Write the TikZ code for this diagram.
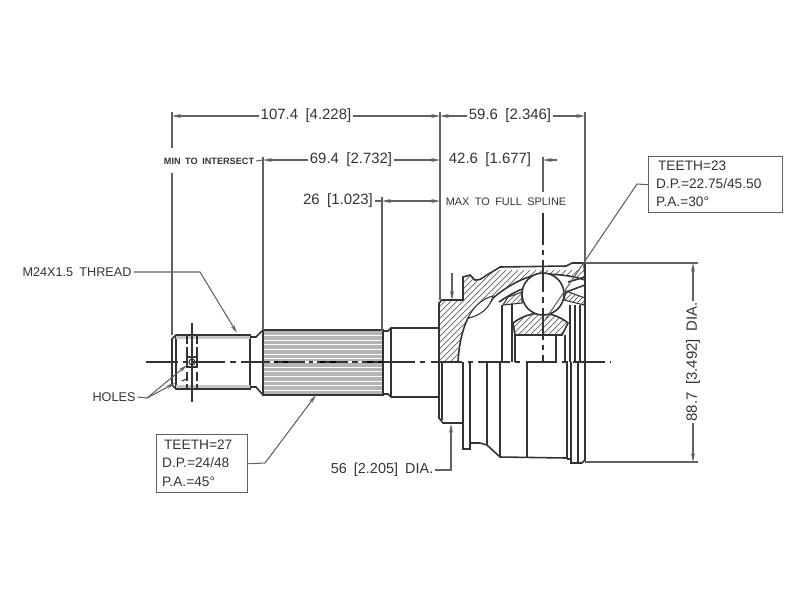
\documentclass[tikz,border=0pt]{standalone}
\usepackage{fontspec}
\setmainfont[WordSpace=1.8]{Liberation Sans}
\usetikzlibrary{arrows.meta}
\definecolor{inkdark}{gray}{0.2}
\definecolor{inkdim}{gray}{0.38}
\tikzset{
  outline/.style={draw=inkdark, line width=0.9pt},
  thinline/.style={draw=inkdark, line width=0.6pt},
  dimline/.style={draw=inkdim, line width=0.6pt},
  dimarrow/.style={dimline, -{Stealth[length=5pt, width=2.2pt]}},
  dimboth/.style={dimline, {Stealth[length=5pt, width=2.2pt]}-{Stealth[length=5pt, width=2.2pt]}},
  centerline/.style={draw=inkdark, line width=0.8pt, dash pattern=on 18pt off 3pt on 3pt off 3pt},
  dimtext/.style={font=\fontsize{8.5}{10}\selectfont, text=inkdark, inner sep=1pt},
  labeltext/.style={font=\fontsize{7.2}{9}\selectfont, text=inkdark, inner sep=1pt},
  notetext/.style={font=\fontsize{6.2}{8}\selectfont, text=inkdark, inner sep=1pt},
  smalltext/.style={font=\fontsize{5.2}{6}\selectfont\bfseries, text=inkdark, inner sep=1pt},
  spectext/.style={font=\fontsize{7.8}{9}\selectfont, text=inkdark, inner sep=1pt, anchor=west},
  specbox/.style={draw=inkdim, line width=0.8pt, anchor=north west, inner sep=0pt},
  hatchline/.style={draw=inkdim, line width=0.4pt}
}
\newcommand{\hubpath}{(439,303) -- (442,300) -- (463,300) -- (463,277) -- (470,275) -- (475,280)
    .. controls (482,281) and (486,274) .. (492,272) -- (500,267) -- (566,266) -- (572,263) -- (584,263)
    -- (585,280) .. controls (570,275) and (555,274) .. (540,274)
    .. controls (520,278) and (505,288) .. (493,298)
    .. controls (485,312) and (475,315) .. (468,318)
    .. controls (462,330) and (459,345) .. (458,362) -- (439,362) -- cycle}
\newcommand{\cagepiece}[1]{
    \begin{scope}
        \clip #1 -- cycle;
        \foreach \k in {0,5,...,100} {
            \draw[hatchline] (490+\k,315) -- (520+\k,285);
        }
    \end{scope}
    \draw[thinline] #1 -- cycle;
}
\begin{document}
\begin{tikzpicture}[x=0.02cm, y=-0.02cm]
    \useasboundingbox (0,0) rectangle (800,600);

    % shaft end and thread
    \draw[outline] (176,335) -- (250,335) -- (250,389) -- (176,389) -- (172,385) -- (172,339) -- cycle;
    \draw[thinline] (176,335) -- (176,389);
    \fill[gray!45] (176,336) rectangle (250,339);
    \fill[gray!45] (176,385) rectangle (250,388);
    \draw[outline] (250,337) -- (256,337) -- (263,330);
    \draw[outline] (250,387) -- (256,387) -- (263,395);
    \foreach \x in {187,197} {
        \draw[thinline, dash pattern=on 5pt off 2pt] (\x,335) -- (\x,389);
    }
    \draw[thinline, dash pattern=on 4pt off 2pt] (188,378) -- (180,382);

    % spline
    \fill[gray!58] (263,330) rectangle (383,395);
    \foreach \y in {335,340,344,349,354,358,367,371,376,381,385,390} {
        \draw[white, line width=0.55pt] (263,\y) -- (383,\y);
    }
    \draw[outline] (263,330) rectangle (383,395);
    \draw[black, line width=1.3pt] (263,362) -- (383,362);

    % neck and stem
    \draw[outline] (383,331) -- (388,331) -- (391,328) -- (439,328);
    \draw[outline] (383,394) -- (388,394) -- (391,397) -- (439,397);
    \draw[thinline] (391,328) -- (391,397);

    % housing section
    \begin{scope}
        \clip \hubpath;
        \foreach \k in {-90,-84,...,120} {
            \draw[hatchline] (430+\k,370) -- (530+\k,270);
        }
    \end{scope}
    \draw[outline] \hubpath;
    \draw[thinline, fill=white] (468,318) .. controls (474,305) and (484,298) .. (493,296)
        .. controls (490,308) and (480,316) .. (468,318);
    \draw[outline] (499,302) .. controls (515,291) and (525,287) .. (535,286);

    % cage and races
    \cagepiece{(503,305) -- (522,303) -- (522,292) -- (508,297)}
    \cagepiece{(584,305) -- (564,300) -- (566,291) -- (585,298)}
    \begin{scope}
        \clip (515,335) -- (513,323) .. controls (530,310) and (552,310) .. (568,323) -- (562,335) -- cycle;
        \foreach \k in {0,6,...,90} {
            \draw[hatchline] (495+\k,340) -- (525+\k,310);
        }
    \end{scope}
    \draw[outline] (515,335) -- (513,323) .. controls (530,310) and (552,310) .. (568,323) -- (562,335) -- cycle;
    \draw[outline, fill=white] (543,294) circle (21);
    \draw[outline] (568,282) -- (585,277);
    \draw[outline] (566,292) -- (585,285);

    % inner verticals
    \foreach \x/\ya in {502/305,575/305,585/263} {
        \draw[outline] (\x,\ya) -- (\x,362);
    }
    \foreach \x/\ya in {515/335,556/335,565/335,570/305,580/305} {
        \draw[thinline] (\x,\ya) -- (\x,362);
    }
    \draw[outline] (512,304) -- (512,362);

    % housing outer view
    \draw[outline] (439,362) -- (439,418) -- (443,423) -- (463,423);
    \draw[thinline] (442,362) -- (442,420);
    \draw[outline] (463,362) -- (463,449) -- (470,449) -- (470,362);
    \draw[outline] (470,443) -- (480,443) -- (487,445) -- (500,457) -- (567,458);
    \foreach \x/\yb in {487/445,500/457,527/457,567/459,571/464,578/464} {
        \draw[outline] (\x,362) -- (\x,\yb);
    }
    \draw[outline] (567,459) -- (571,459) -- (571,463) -- (582,463) -- (585,460) -- (585,362);

    % center lines
    \draw[centerline] (146,362) -- (610,362);
    \foreach \x in {272,307,315,350,360} {
        \draw[white, line width=1pt] (\x-2,362) -- (\x+2,362);
    }
    \draw[thinline] (192,323) -- (192,402);
    \draw[thinline] (187,357) rectangle (197,367);
    \draw[thinline] (192,362) circle (3);
    \draw[centerline] (543,213) -- (543,362);

    % extension lines
    \draw[dimline] (172,112) -- (172,148);
    \draw[dimline] (172,173) -- (172,335);
    \draw[dimline] (263,157) -- (263,330);
    \draw[dimline] (382,197) -- (382,331);
    \draw[dimline] (440,112) -- (440,300);
    \draw[dimline] (585,112) -- (585,263);
    \draw[dimline] (543,157) -- (543,192);
    \draw[dimline] (585,263) -- (698,263);
    \draw[dimline] (585,462) -- (698,462);

    % dimensions
    \node[dimtext] (dimtotal) at (306,116) {107.4 [4.228]};
    \node[dimtext] (dimflange) at (510,116) {59.6 [2.346]};
    \node[dimtext] (diminter) at (351,160) {69.4 [2.732]};
    \node[dimtext] (dimball) at (490,160) {42.6 [1.677]};
    \node[dimtext] (dimspline) at (338,201) {26 [1.023]};
    \node[smalltext] (mintext) at (209,161) {MIN TO INTERSECT};
    \node[notetext] (maxtext) at (506,202) {MAX TO FULL SPLINE};
    \node[dimtext, rotate=90] (dimoutside) at (693,362) {88.7 [3.492] DIA.};
    \node[dimtext, font=\fontsize{8.2}{10}\selectfont] (dimstem) at (382,470) {56 [2.205] DIA.};
    \node[labeltext] (threadtext) at (77,272) {M24X1.5 THREAD};
    \node[labeltext] (holestext) at (114,397) {HOLES};

    \coordinate (totalleft) at (172,116);
    \coordinate (totalright) at (440,116);
    \coordinate (flangeright) at (585,116);
    \coordinate (interleft) at (263,160);
    \coordinate (interright) at (440,160);
    \coordinate (ballright) at (543,160);
    \coordinate (balltail) at (557,160);
    \coordinate (splineleft) at (382,201);
    \coordinate (splineright) at (440,201);
    \coordinate (dimtop) at (693,263);
    \coordinate (dimbottom) at (693,462);
    \coordinate (stemknee) at (451,470);
    \coordinate (stemtip) at (451,424);
    \coordinate (hubtail) at (452,273);
    \coordinate (hubtip) at (452,300);

    \draw[dimarrow] (dimtotal) -- (totalleft);
    \draw[dimarrow] (dimtotal) -- (totalright);
    \draw[dimarrow] (dimflange) -- (totalright);
    \draw[dimarrow] (dimflange) -- (flangeright);
    \draw[dimline] (mintext.east) -- (interleft);
    \draw[dimarrow] (diminter) -- (interleft);
    \draw[dimarrow] (diminter) -- (interright);
    \draw[dimarrow] (balltail) -- (ballright);
    \draw[dimline] (dimspline) -- (splineleft);
    \draw[dimboth] (splineleft) -- (splineright);
    \draw[dimarrow] (dimoutside) -- (dimtop);
    \draw[dimarrow] (dimoutside) -- (dimbottom);
    \draw[dimarrow] (dimstem.east) -- (stemknee) -- (stemtip);
    \draw[dimarrow] (hubtail) -- (hubtip);

    % leaders
    \coordinate (threadknee) at (200,272);
    \coordinate (threadtip) at (237,333);
    \coordinate (holesknee) at (147,398);
    \coordinate (holetip) at (187,365);
    \coordinate (holetiplow) at (175,383);
    \draw[dimarrow] (threadtext.east) -- (threadknee) -- (threadtip);
    \draw[dimline] (holestext.east) -- (holesknee);
    \draw[dimarrow] (holesknee) -- (holetip);
    \draw[dimarrow] (holesknee) -- (holetiplow);

    % spec boxes
    \node[specbox, minimum width=2.68cm, minimum height=1.12cm] (specbell) at (648,156) {};
    \node[spectext] (bellteeth) at (656,166) {TEETH=23};
    \node[spectext] (belldp) at (654,184) {D.P.=22.75/45.50};
    \node[spectext] (bellpa) at (654,202) {P.A.=30°};
    \node[specbox, minimum width=1.82cm, minimum height=1.16cm] (specstem) at (156,434) {};
    \node[spectext] (stemteeth) at (162,445) {TEETH=27};
    \node[spectext] (stemdp) at (160,463) {D.P.=24/48};
    \node[spectext] (stempa) at (160,482) {P.A.=45°};
    \coordinate (bellknee) at (637,184);
    \coordinate (belltip) at (545,320);
    \coordinate (stemleaderknee) at (265,463);
    \coordinate (stemleadertip) at (316,395);
    \draw[dimline] (specbell.west) -- (bellknee) -- (belltip);
    \draw[dimarrow] (specstem.east) -- (stemleaderknee) -- (stemleadertip);
\end{tikzpicture}
\end{document}
